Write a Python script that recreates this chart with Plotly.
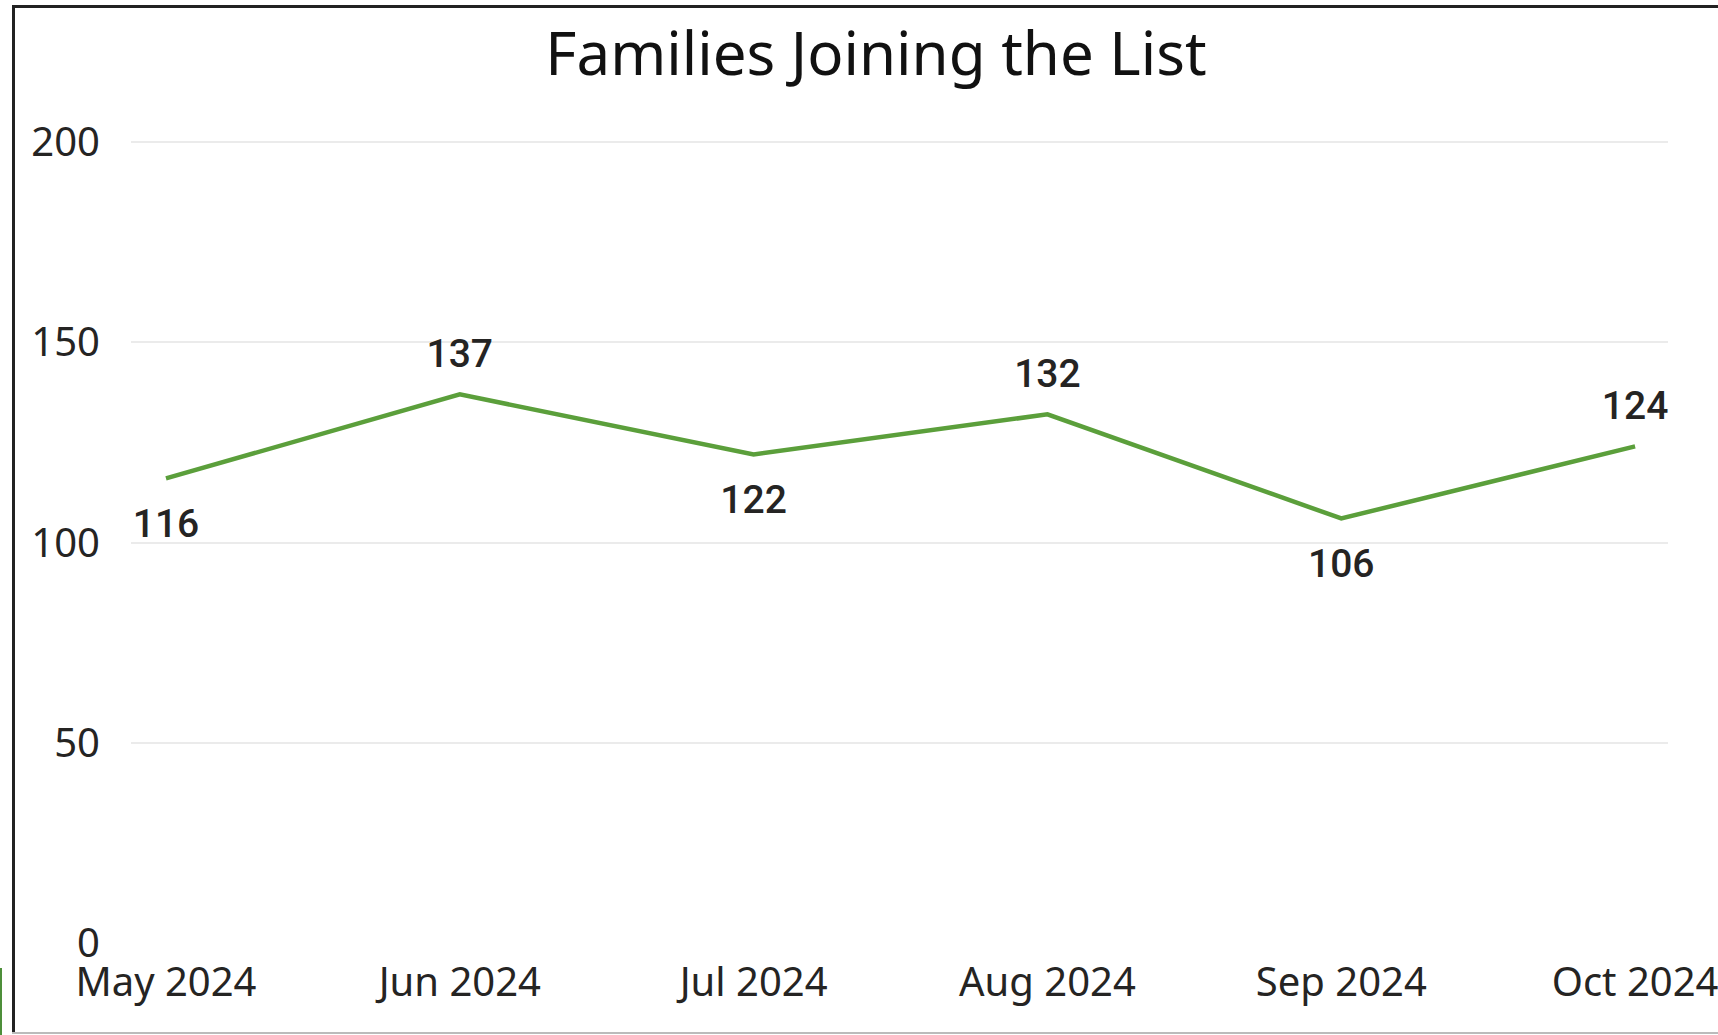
import plotly.graph_objects as go

months = ["May 2024", "Jun 2024", "Jul 2024", "Aug 2024", "Sep 2024", "Oct 2024"]
families = [116, 137, 122, 132, 106, 124]
label_pos = ["bottom center", "top center", "bottom center", "top center", "bottom center", "top center"]
y_ticks = [0, 50, 100, 150, 200]

W, H = 1718, 1035
ml, mr, mt, mb = 131, 50, 140, 92
PW, PH = W - ml - mr, H - mt - mb


def px(xp):
    return (xp - ml) / PW


def py(yp):
    return (H - mb - yp) / PH


# invisible marker sizes control the label offset from the line
offset_sizes = [46 if p.startswith("bottom") else 26 for p in label_pos]

fig = go.Figure()
fig.add_trace(go.Scatter(
    x=months, y=families,
    mode="lines+markers+text",
    line=dict(color="#5B9F3B", width=4.5),
    marker=dict(size=offset_sizes, color="rgba(0,0,0,0)", opacity=0,
                line=dict(width=0, color="rgba(0,0,0,0)")),
    text=[str(v) for v in families],
    textposition=label_pos,
    textfont=dict(family="Roboto", size=39, color="#252423", weight=500),
    cliponaxis=False,
    hoverinfo="skip",
))

fig.update_layout(
    width=W, height=H,
    margin=dict(l=ml, r=mr, t=mt, b=mb, autoexpand=False),
    paper_bgcolor="white", plot_bgcolor="white",
    showlegend=False,
    title=dict(
        text="Families Joining the List",
        x=876 / W, xanchor="center",
        y=1 - 54 / H, yanchor="middle", yref="container",
        font=dict(family="Noto Sans", size=60, color="#111111"),
    ),
    xaxis=dict(
        type="category",
        range=[-0.119, 5.112],
        automargin=False,
        showgrid=False, zeroline=False, showline=False,
        ticks="",
        tickfont=dict(family="Noto Sans", size=40, color="#252423"),
        ticklabelstandoff=12,
    ),
    yaxis=dict(
        range=[0, 200.5],
        tickvals=y_ticks,
        automargin=False,
        showgrid=True, gridcolor="#EBEBEB", gridwidth=2,
        zeroline=False, showline=False,
        ticks="",
        tickfont=dict(family="Noto Sans", size=40, color="#252423"),
        ticklabelstandoff=30,
    ),
    shapes=[
        # outer frame: left and top dark edges, light bottom edge
        dict(type="line", xref="paper", yref="paper",
             x0=px(13.5), x1=px(13.5), y0=py(1033), y1=py(6),
             line=dict(color="#222222", width=3)),
        dict(type="line", xref="paper", yref="paper",
             x0=px(12), x1=px(W), y0=py(6.5), y1=py(6.5),
             line=dict(color="#222222", width=3)),
        dict(type="line", xref="paper", yref="paper",
             x0=px(12), x1=px(W), y0=py(1033), y1=py(1033),
             line=dict(color="#BBBBBB", width=2)),
        dict(type="line", xref="paper", yref="paper",
             x0=px(1), x1=px(1), y0=py(1035), y1=py(968),
             line=dict(color="#4E8F3A", width=2)),
    ],
)

fig.write_html(
    "out.html",
    config={"displayModeBar": False},
    post_script="document.body.style.margin='0';document.body.style.overflow='hidden';",
)
